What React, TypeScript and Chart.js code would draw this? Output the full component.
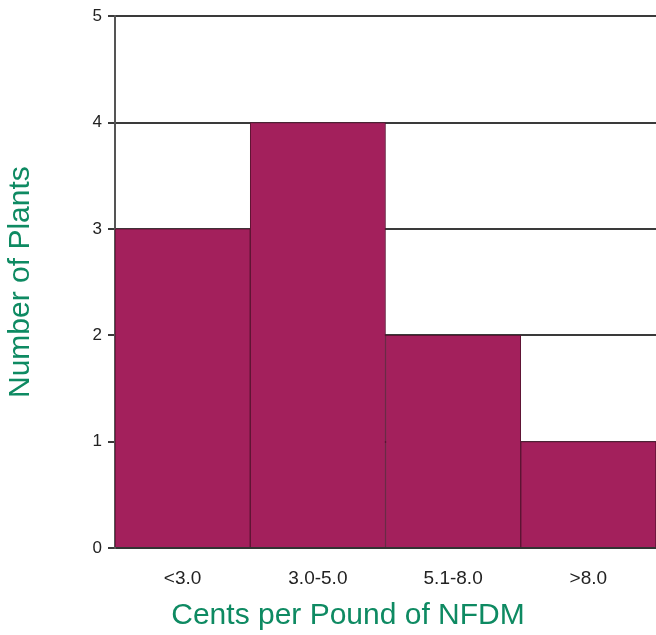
import React, { useEffect, useRef } from "react";
import { Chart, registerables } from "chart.js";

Chart.register(...registerables);

const categories = ["<3.0", "3.0-5.0", "5.1-8.0", ">8.0"];
const plantCounts = [3, 4, 2, 1];
const yTicks = [0, 1, 2, 3, 4, 5];
const xTitle = "Cents per Pound of NFDM";
const yTitle = "Number of Plants";

const FONT = "'Liberation Sans', Arial, sans-serif";
const GREEN = "#0E8A62";

const xTitlePlugin = {
  id: "xTitlePlugin",
  afterDraw(chart: any) {
    const ctx = chart.ctx;
    ctx.save();
    ctx.fillStyle = GREEN;
    ctx.font = `30px ${FONT}`;
    ctx.textAlign = "center";
    ctx.textBaseline = "middle";
    ctx.fillText(xTitle, chart.width / 2 + 20, chart.height - 19);
    ctx.restore();
  },
};

export default function App() {
  const ref = useRef<HTMLCanvasElement | null>(null);

  useEffect(() => {
    if (!ref.current) return;
    const chart = new Chart(ref.current, {
      type: "bar",
      data: {
        labels: categories,
        datasets: [
          {
            data: plantCounts,
            backgroundColor: "#A3205C",
            borderColor: "#5a1432",
            borderWidth: 1,
            barPercentage: 1,
            categoryPercentage: 1,
          },
        ],
      },
      plugins: [xTitlePlugin],
      options: {
        animation: false,
        responsive: false,
        maintainAspectRatio: false,
        layout: { padding: { top: 15, right: 0, left: 0, bottom: 0 } },
        plugins: { legend: { display: false }, tooltip: { enabled: false } },
        scales: {
          x: {
            grid: { display: false, drawTicks: false },
            border: { display: true, color: "#333", width: 2 },
            ticks: {
              padding: 19,
              color: "#222",
              font: { family: FONT, size: 19 },
            },
            title: { display: false },
            afterFit: (s: any) => {
              s.height = 87;
            },
          },
          y: {
            min: 0,
            max: 5,
            afterBuildTicks: (s: any) => {
              s.ticks = yTicks.map((v) => ({ value: v }));
            },
            grid: { color: "#3a3a3a", lineWidth: 2, tickLength: 7, drawTicks: true },
            border: { display: true, color: "#555", width: 2 },
            ticks: {
              padding: 6,
              color: "#222",
              font: { family: FONT, size: 17 },
            },
            title: {
              display: true,
              text: yTitle,
              color: GREEN,
              font: { family: FONT, size: 30 },
              padding: { top: 3, bottom: 0 },
            },
            afterFit: (s: any) => {
              s.width = 115;
            },
          },
        },
      },
    });
    return () => chart.destroy();
  }, []);

  return (
    <div style={{ position: "fixed", left: 0, top: 0, width: 656, height: 635, background: "#fff" }}>
      <canvas ref={ref} width={656} height={635} style={{ display: "block" }} />
    </div>
  );
}
